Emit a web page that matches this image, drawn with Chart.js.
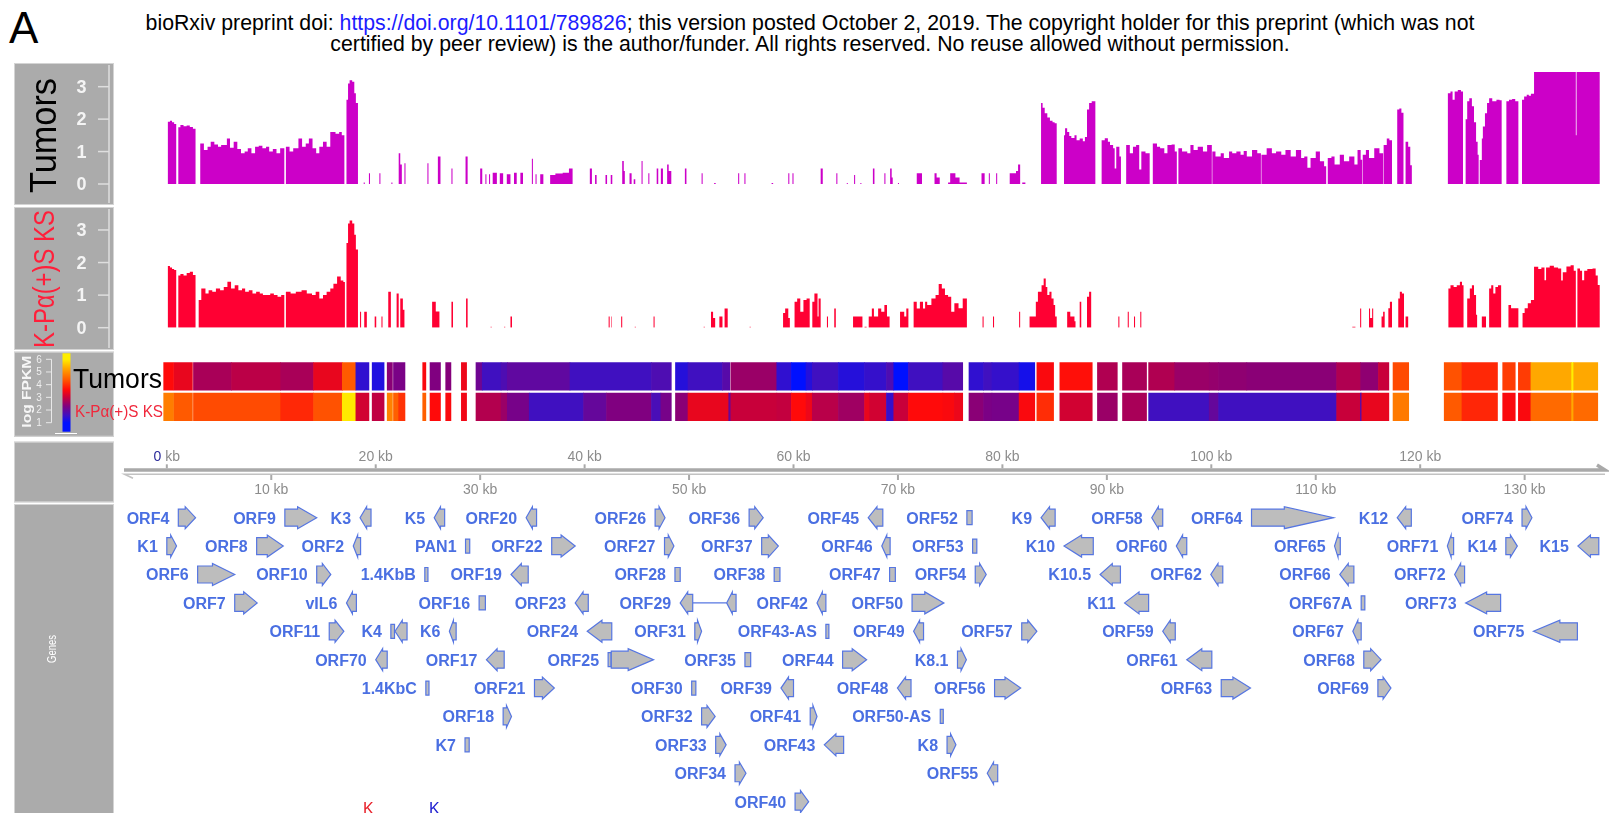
<!DOCTYPE html>
<html>
<head>
<meta charset="utf-8">
<script src="https://cdn.jsdelivr.net/npm/chart.js@4.4.1/dist/chart.umd.min.js"></script>
<style>
  body { margin:0; width:1609px; height:813px; overflow:hidden; background:#fff; position:relative;
         font-family:"Liberation Sans", Arial, sans-serif; }
  canvas { position:absolute; left:0; }
  .hdr { position:absolute; left:0; width:1620px; text-align:center; white-space:nowrap; color:#000; }
  #bigA { position:absolute; left:9px; top:6px; font-size:44px; line-height:44px; }
  .kk { position:absolute; top:801px; font-size:16px; line-height:16px; }
</style>
</head>
<body>
<div id="bigA">A</div>
<div id="hdr1" class="hdr">bioRxiv preprint doi: <span style="color:#1c1cff">https://doi.org/10.1101/789826</span>; this version posted October 2, 2019. The copyright holder for this preprint (which was not</div>
<div id="hdr2" class="hdr">certified by peer review) is the author/funder. All rights reserved. No reuse allowed without permission.</div>

<canvas id="cTumor" width="1609" height="150" style="top:60px"></canvas>
<canvas id="cKS" width="1609" height="150" style="top:205px"></canvas>
<canvas id="cHeat" width="1609" height="90" style="top:350px"></canvas>
<canvas id="cGenes" width="1609" height="375" style="top:438px"></canvas>

<div class="kk" style="left:363px;color:#e8202a">K</div>
<div class="kk" style="left:429px;color:#2020d0">K</div>

<script>
// ---- genome axis (kb) ----
const kbMin = -0.5, kbMax = 138;
const kbTicks = [0, 10, 20, 30, 40, 50, 60, 70, 80, 90, 100, 110, 120, 130];

// ---- coverage tracks: [kb, log coverage], each value holds until the next point ----
const covTicks = [0, 1, 2, 3];
const covMax = 3.45;

const tumorCoverage = [
  [0, 0], [0.1, 1.92], [0.3, 1.95], [0.5, 1.9], [0.7, 1.85], [0.9, 0],
  [1.1, 1.75], [1.3, 1.82], [1.6, 1.78], [1.9, 1.8], [2.2, 1.76], [2.5, 1.7], [2.75, 0],
  [3.2, 1.25], [3.55, 1.05], [3.9, 1.15], [4.2, 1.3], [4.55, 1.22], [4.9, 1.15], [5.2, 1.2], [5.75, 1.4],
  [6.05, 1.12], [6.4, 1.3], [6.75, 1.08], [7.1, 0.95], [7.45, 1.0], [7.75, 1.1], [8.1, 0.95], [8.45, 1.15],
  [8.8, 1.18], [9.15, 1.1], [9.5, 1.15], [9.8, 1.0], [10.15, 1.08], [10.5, 0.95], [10.85, 1.1], [11.25, 0],
  [11.4, 1.15], [11.75, 1.0], [12.1, 1.1], [12.6, 1.4], [12.95, 1.15], [13.3, 1.25], [13.6, 1.4], [13.95, 1.1],
  [14.3, 0.95], [14.6, 1.15], [14.95, 1.3], [15.3, 1.15], [15.65, 1.6], [16.15, 1.55], [16.5, 1.6], [16.75, 1.5], [17.0, 0],
  [17.2, 2.6], [17.35, 3.1], [17.5, 3.2], [17.75, 3.15], [17.95, 2.8], [18.1, 2.5], [18.3, 0],
  [18.85, 0.05], [18.95, 0], [19.35, 0.33], [19.45, 0], [20.35, 0.33], [20.45, 0], [21.5, 0.05], [21.6, 0],
  [22.2, 0.95], [22.35, 0.6], [22.5, 0], [22.75, 0.64], [22.85, 0], [24.95, 0.64], [25.05, 0],
  [25.95, 0.85], [26.2, 0], [27.25, 0.48], [27.35, 0], [28.6, 0.85], [28.8, 0],
  [30.0, 0.48], [30.2, 0], [30.5, 0.3], [30.6, 0], [30.85, 0.3], [30.95, 0], [31.2, 0.35], [31.6, 0],
  [31.88, 0.33], [32.2, 0], [32.55, 0.3], [32.9, 0], [33.24, 0.35], [33.5, 0], [33.85, 0.35], [34.1, 0],
  [34.95, 0.78], [35.05, 0], [35.3, 0.3], [35.4, 0], [35.75, 0.3], [36.05, 0], [36.7, 0.28], [37.2, 0.32],
  [37.9, 0.35], [38.5, 0.48], [38.85, 0],
  [40.5, 0.48], [40.7, 0], [41.0, 0.28], [41.15, 0], [42.0, 0.28], [42.15, 0], [42.5, 0.28], [42.65, 0],
  [43.6, 0.71], [43.75, 0.4], [43.85, 0], [44.3, 0.33], [44.5, 0], [44.7, 0.15], [44.85, 0], [45.45, 0.71], [45.55, 0],
  [46.1, 0.33], [46.2, 0], [46.9, 0.48], [47.05, 0], [47.3, 0.48], [47.5, 0], [47.9, 0.6], [48.05, 0.4], [48.3, 0],
  [49.6, 0.48], [49.75, 0], [51.2, 0.33], [51.3, 0], [52.4, 0.03], [52.55, 0], [54.7, 0.33], [54.8, 0],
  [55.3, 0.33], [55.4, 0], [57.9, 0.03], [58.05, 0], [59.5, 0.33], [59.6, 0], [59.9, 0.33], [60.0, 0],
  [62.6, 0.48], [62.8, 0], [64.1, 0.33], [64.2, 0], [65.1, 0.03], [65.2, 0], [65.8, 0.28], [65.9, 0],
  [66.4, 0.03], [66.5, 0], [67.6, 0.48], [67.75, 0], [68.7, 0.33], [68.8, 0], [69.25, 0.48], [69.4, 0.2], [69.5, 0],
  [70.0, 0.03], [70.1, 0], [71.8, 0.33], [72.3, 0], [73.5, 0.33], [73.7, 0.2], [74.0, 0],
  [74.8, 0.05], [75.0, 0.33], [75.5, 0.2], [75.9, 0.05], [76.6, 0], [78.0, 0.33], [78.3, 0],
  [78.7, 0.33], [78.8, 0], [79.4, 0.33], [79.5, 0], [80.7, 0.33], [81.3, 0.4], [81.5, 0.6], [81.7, 0],
  [81.9, 0.05], [82.2, 0],
  [83.7, 2.5], [83.85, 2.35], [84.05, 2.18], [84.3, 2.05], [84.55, 1.95], [84.8, 1.9], [85.0, 1.87], [85.2, 0],
  [85.9, 1.5], [86.0, 1.72], [86.2, 1.6], [86.4, 1.48], [86.6, 1.42], [86.9, 1.5], [87.1, 1.35], [87.4, 1.4],
  [87.7, 1.32], [87.9, 1.45], [88.1, 2.3], [88.3, 2.5], [88.55, 2.55], [88.9, 0],
  [89.5, 1.35], [89.8, 1.41], [90.1, 1.3], [90.3, 1.2], [90.6, 1.1], [90.75, 0.48], [90.9, 1.15], [91.2, 0.85], [91.35, 0],
  [91.85, 1.2], [92.2, 0.95], [92.5, 1.15], [92.8, 1.2], [93.1, 0.45], [93.3, 1.0], [93.7, 0.95], [94.1, 0],
  [94.4, 1.25], [94.8, 1.15], [95.1, 1.1], [95.5, 0.95], [95.8, 1.2], [96.2, 1.22], [96.5, 1.0], [96.7, 0],
  [96.85, 1.1], [97.2, 1.0], [97.7, 0.95], [98.0, 1.2], [98.3, 1.05], [98.7, 1.15], [99.2, 1.0], [99.6, 1.2], [100.05, 0],
  [100.1, 1.0], [100.4, 0.85], [100.9, 0.95], [101.2, 0.8], [101.7, 1.0], [102.0, 0.95], [102.4, 1.0], [102.8, 0.9],
  [103.1, 1.02], [103.4, 0.85], [103.9, 1.05], [104.4, 0.95], [104.75, 0],
  [104.8, 0.9], [105.3, 1.1], [105.8, 0.95], [106.2, 1.0], [106.7, 0.9], [107.1, 1.05], [107.6, 0.85], [108.1, 1.05],
  [108.6, 0.8], [108.9, 0.85], [109.2, 0.5], [109.5, 0.8], [110.0, 1.0], [110.4, 0.7], [110.8, 0.55], [111.0, 0],
  [111.15, 0.8], [111.5, 0.85], [111.8, 0.6], [112.3, 0.9], [112.7, 0.7], [113.2, 0.85], [113.7, 0.6], [114.0, 1.05], [114.3, 0.75], [114.45, 0],
  [114.5, 0.9], [114.8, 1.05], [115.1, 0.8], [115.6, 1.1], [116.1, 0.95], [116.45, 0],
  [116.5, 1.2], [116.8, 1.4], [117.05, 1.35], [117.3, 0],
  [117.8, 2.3], [118.0, 2.33], [118.2, 2.2], [118.4, 0],
  [118.6, 1.3], [118.85, 1.15], [119.05, 0.58], [119.2, 0],
  [122.65, 2.8], [122.9, 2.85], [123.1, 2.6], [123.3, 2.85], [123.6, 2.9], [123.9, 2.85], [124.1, 0],
  [124.35, 2.0], [124.5, 2.55], [124.7, 2.64], [124.95, 2.4], [125.15, 1.9], [125.35, 1.3], [125.5, 0.9], [125.6, 0],
  [125.7, 0.74], [125.9, 1.4], [126.0, 1.77], [126.2, 2.18], [126.4, 2.5], [126.6, 2.64], [126.9, 2.55], [127.3, 2.6], [127.6, 2.58], [127.8, 0],
  [128.25, 2.55], [128.5, 2.6], [128.8, 2.62], [129.1, 2.55], [129.4, 0],
  [129.75, 2.6], [129.95, 2.7], [130.2, 2.75], [130.4, 2.72], [130.6, 2.78], [130.9, 3.6],
  [134.9, 1.5], [134.97, 3.6], [137.2, 0]
];

const ksCoverage = [
  [0, 0], [0.1, 1.89], [0.3, 1.85], [0.5, 1.8], [0.7, 1.77], [0.9, 0],
  [1.1, 1.6], [1.3, 1.65], [1.6, 1.6], [1.9, 1.68], [2.2, 1.72], [2.5, 1.62], [2.75, 0],
  [3.05, 0.85], [3.3, 1.2], [3.7, 1.05], [4.0, 1.15], [4.35, 1.1], [4.7, 1.2], [5.1, 1.15], [5.45, 1.25],
  [5.8, 1.41], [6.15, 1.2], [6.5, 1.3], [6.85, 1.15], [7.2, 1.2], [7.5, 1.1], [7.85, 1.15], [8.2, 1.05],
  [8.55, 1.1], [8.9, 1.05], [9.2, 1.0], [9.55, 1.0], [9.9, 1.05], [10.25, 1.0], [10.6, 0.95], [10.95, 1.0], [11.25, 0],
  [11.4, 1.1], [11.85, 1.05], [12.35, 1.1], [12.9, 1.15], [13.4, 1.05], [13.9, 1.0], [14.25, 1.1], [14.6, 0.9],
  [14.95, 1.0], [15.3, 1.1], [15.65, 1.2], [15.95, 1.35], [16.3, 1.57], [16.65, 1.45], [16.9, 1.4], [17.05, 0],
  [17.2, 2.6], [17.35, 3.2], [17.5, 3.29], [17.75, 3.2], [17.95, 2.85], [18.1, 2.4], [18.3, 0],
  [18.5, 0.49], [18.6, 0], [18.9, 0.49], [19.15, 0], [19.9, 0.34], [20.05, 0], [20.55, 0.34], [20.65, 0],
  [21.2, 1.1], [21.45, 0], [22.0, 1.05], [22.2, 0], [22.35, 0.9], [22.6, 0.55], [22.75, 0],
  [25.4, 0.8], [25.75, 0.5], [26.1, 0], [27.25, 0.8], [27.4, 0], [28.65, 0.9], [28.8, 0],
  [31.0, 0.03], [31.1, 0], [32.3, 0.03], [32.4, 0], [32.9, 0.34], [33.05, 0],
  [42.3, 0.34], [42.4, 0], [42.55, 0.34], [42.6, 0], [43.5, 0.34], [43.6, 0], [44.8, 0.03], [44.9, 0],
  [46.6, 0.34], [46.7, 0], [51.4, 0.03], [51.5, 0], [52.1, 0.49], [52.3, 0.3], [52.5, 0],
  [52.9, 0.34], [53.2, 0], [53.4, 0.59], [53.7, 0], [55.8, 0.03], [55.9, 0],
  [59.0, 0.45], [59.2, 0.59], [59.5, 0.3], [59.65, 0],
  [60.1, 0.8], [60.35, 0.9], [60.65, 0.49], [60.95, 0.85], [61.25, 0.9], [61.55, 0],
  [61.8, 0.8], [62.0, 1.05], [62.3, 0.34], [62.4, 0.9], [62.6, 0],
  [63.2, 0.34], [63.3, 0], [63.9, 0.59], [64.05, 0],
  [65.7, 0.34], [66.6, 0], [66.8, 0.03], [67.0, 0],
  [67.2, 0.34], [67.5, 0.59], [67.7, 0.34], [68.1, 0.59], [68.4, 0.49], [68.7, 0.7], [68.95, 0.34], [69.2, 0],
  [70.2, 0.49], [70.6, 0.34], [70.8, 0.59], [71.0, 0],
  [71.5, 0.8], [71.8, 0.59], [72.1, 0.8], [72.4, 0.59], [72.6, 0.8], [72.8, 0.7], [73.2, 0.9], [73.6, 1.0],
  [73.9, 1.34], [74.2, 1.2], [74.5, 1.0], [74.8, 0.95], [75.1, 0.49], [75.4, 0.75], [75.8, 0.6], [76.2, 0.9], [76.6, 0],
  [78.1, 0.34], [78.2, 0], [79.1, 0.34], [79.2, 0], [81.6, 0.49], [81.7, 0],
  [82.6, 0.34], [82.95, 0.34], [83.2, 0.8], [83.4, 1.1], [83.75, 1.3], [83.95, 1.51], [84.15, 1.25], [84.3, 1.0],
  [84.5, 1.1], [84.7, 0.9], [84.9, 0.7], [85.05, 0.34], [85.2, 0],
  [86.2, 0.49], [86.5, 0.34], [86.9, 0.2], [87.0, 0], [87.4, 0.8], [87.55, 0], [88.1, 0.95], [88.3, 1.1], [88.5, 0],
  [91.1, 0.34], [91.2, 0], [92.0, 0.49], [92.1, 0], [92.6, 0.34], [92.7, 0], [93.2, 0.49], [93.3, 0],
  [113.5, 0.03], [113.8, 0], [114.25, 0.59], [114.35, 0], [115.1, 0.59], [115.2, 0.3], [115.4, 0.59], [115.5, 0],
  [116.3, 0.34], [116.45, 0.49], [116.6, 0], [116.95, 0.6], [117.1, 0.8], [117.3, 0],
  [117.9, 0.9], [118.05, 1.1], [118.25, 1.05], [118.45, 0], [118.6, 0.34], [118.85, 0],
  [122.7, 1.2], [122.9, 1.3], [123.2, 1.25], [123.5, 1.3], [123.8, 1.41], [124.0, 1.3], [124.15, 0],
  [124.5, 0.9], [124.75, 1.2], [124.95, 1.3], [125.15, 1.0], [125.35, 0.4], [125.45, 0],
  [125.9, 0.34], [126.3, 0],
  [126.6, 1.2], [126.8, 1.3], [127.0, 1.05], [127.2, 1.25], [127.45, 1.3], [127.75, 0],
  [128.45, 0.7], [128.7, 0.6], [129.0, 0.6], [129.4, 0],
  [129.8, 0.45], [130.0, 0.6], [130.3, 0.75], [130.6, 0.85],
  [130.9, 1.87], [131.3, 1.8], [131.6, 1.85], [131.9, 1.46], [132.05, 1.85], [132.4, 1.9], [132.8, 1.85], [133.2, 1.82],
  [133.5, 1.45], [133.65, 1.7], [134.0, 1.88], [134.4, 1.92], [134.7, 1.75], [134.9, 0],
  [135.05, 1.82], [135.3, 1.75], [135.5, 1.46], [135.7, 1.75], [136.0, 1.8], [136.5, 1.82], [136.8, 1.6], [137.0, 1.31], [137.2, 0]
];

// ---- expression heatmap: [start kb, end kb, log FPKM] ----
const heatRows = ['Tumors', 'K-Pα(+)S KS'];
const fpkmTicks = [1, 2, 3, 4, 5, 6];

const tumorHeat = [
  [-0.3, 0.65, 3.6], [0.7, 2.45, 3.35], [2.55, 6.2, 2.7], [6.2, 10.9, 2.87], [10.9, 14.05, 2.7],
  [14.05, 16.8, 3.35], [16.8, 18.1, 4.4], [18.1, 19.35, 1.45], [19.66, 20.8, 1.3], [21.1, 21.6, 2.4],
  [21.7, 22.8, 2.23], [24.5, 24.8, 3.55], [25.2, 26.2, 2.3], [26.7, 27.2, 2.35], [28.2, 28.7, 3.4],
  [29.6, 30.2, 2.1], [30.2, 32.0, 1.6], [32.0, 32.6, 1.75], [32.6, 38.6, 1.95], [38.6, 46.4, 1.6],
  [46.4, 48.3, 1.75], [48.7, 49.9, 1.35], [49.9, 53.2, 1.6], [53.2, 53.9, 1.85], [54.0, 58.4, 2.55],
  [58.4, 59.8, 1.45], [59.8, 61.2, 1.0], [61.2, 61.8, 1.35], [61.8, 64.3, 1.6], [64.3, 66.8, 1.35],
  [66.8, 68.9, 1.5], [68.9, 69.6, 1.75], [69.6, 71.0, 1.0], [71.0, 74.3, 1.6], [74.3, 76.2, 1.85],
  [76.8, 78.2, 1.45], [78.2, 79.0, 1.6], [79.0, 81.6, 1.5], [81.6, 83.1, 1.2], [83.3, 84.9, 3.55],
  [85.5, 88.6, 3.65], [89.1, 91.0, 2.77], [91.5, 93.8, 2.7], [94.0, 96.5, 2.77], [96.5, 99.8, 2.55],
  [99.8, 100.7, 2.5], [100.7, 103.4, 2.45], [103.4, 112.0, 2.4], [112.0, 114.3, 2.77], [114.3, 116.0, 2.45],
  [116.0, 117.0, 3.0], [117.4, 118.9, 4.24], [122.3, 124.0, 4.32], [124.0, 127.4, 3.9], [127.9, 129.1, 4.1],
  [129.4, 130.6, 4.1], [130.6, 134.5, 5.3], [134.5, 134.7, 6.0], [134.7, 137.0, 5.3]
];

const ksHeat = [
  [-0.3, 0.65, 4.8], [0.7, 2.45, 4.4], [2.55, 10.9, 4.25], [10.9, 14.05, 3.9], [14.05, 16.8, 4.32],
  [16.8, 18.1, 5.95], [18.1, 19.35, 3.1], [19.66, 20.8, 2.92], [21.1, 21.6, 4.85], [21.7, 22.2, 4.46],
  [22.2, 22.8, 4.0], [24.5, 24.8, 4.46], [25.2, 26.2, 3.6], [26.7, 27.2, 3.55], [28.2, 28.7, 3.45],
  [29.6, 32.0, 2.8], [32.0, 32.6, 2.55], [32.6, 34.7, 2.2], [34.7, 39.9, 1.6], [39.9, 42.1, 2.0],
  [42.1, 46.4, 2.3], [46.4, 47.3, 1.7], [47.3, 48.3, 2.2], [48.7, 49.9, 2.4], [49.9, 53.8, 3.35],
  [53.8, 54.0, 2.0], [54.0, 58.4, 3.0], [58.4, 59.8, 2.95], [59.8, 61.2, 3.6], [61.2, 61.8, 3.4],
  [61.8, 64.3, 2.85], [64.3, 66.8, 2.6], [66.8, 67.3, 3.35], [67.3, 68.9, 3.1], [68.9, 69.6, 1.5],
  [69.6, 71.0, 3.0], [71.0, 74.3, 3.6], [74.3, 75.4, 3.55], [75.4, 76.2, 3.4], [76.8, 78.2, 2.4],
  [78.2, 79.0, 2.25], [79.0, 81.6, 2.2], [81.6, 83.1, 3.55], [83.3, 84.9, 3.95], [85.5, 88.6, 3.1],
  [89.1, 91.0, 2.55], [91.5, 93.8, 2.7], [94.0, 99.8, 1.6], [99.8, 100.7, 2.0], [100.7, 112.0, 1.6],
  [112.0, 114.3, 3.0], [114.3, 114.4, 1.4], [114.4, 117.0, 3.35], [117.4, 118.9, 4.77], [122.3, 124.0, 4.4],
  [124.0, 127.4, 3.88], [127.9, 129.1, 3.55], [129.4, 130.6, 3.55], [130.6, 134.5, 4.58], [134.5, 134.7, 5.3],
  [134.7, 137.0, 4.58]
];

// ---- genes: [name, start kb, end kb, strand (1 fwd, -1 rev, 0 none), row] ----
const genes = [
  ['ORF4', 1.1, 2.75, 1, 0], ['ORF9', 11.3, 14.35, 1, 0], ['K3', 18.5, 19.55, -1, 0], ['K5', 25.6, 26.6, -1, 0],
  ['ORF20', 34.4, 35.4, -1, 0], ['ORF26', 46.75, 47.7, 1, 0], ['ORF36', 55.75, 57.1, 1, 0], ['ORF45', 67.15, 68.55, -1, 0],
  ['ORF52', 76.6, 77.1, 0, 0], ['K9', 83.7, 85.05, -1, 0], ['ORF58', 94.3, 95.35, -1, 0], ['ORF64', 103.85, 111.7, 1, 0],
  ['K12', 117.8, 119.15, -1, 0], ['ORF74', 129.75, 130.7, 1, 0],

  ['K1', 0.0, 0.93, 1, 1], ['ORF8', 8.6, 11.15, 1, 1], ['ORF2', 17.85, 18.55, -1, 1], ['PAN1', 28.6, 29.0, 0, 1],
  ['ORF22', 36.85, 39.1, 1, 1], ['ORF27', 47.65, 48.55, 1, 1], ['ORF37', 56.95, 58.55, 1, 1], ['ORF46', 68.45, 69.25, -1, 1],
  ['ORF53', 77.15, 77.55, 0, 1], ['K10', 85.9, 88.7, -1, 1], ['ORF60', 96.65, 97.65, -1, 1], ['ORF65', 111.8, 112.35, -1, 1],
  ['ORF71', 122.6, 123.2, -1, 1], ['K14', 128.2, 129.3, 1, 1], ['K15', 135.1, 137.1, -1, 1],

  ['ORF6', 2.95, 6.5, 1, 2], ['ORF10', 14.35, 15.7, 1, 2], ['1.4KbB', 24.7, 25.0, 0, 2], ['ORF19', 32.95, 34.6, -1, 2],
  ['ORF28', 48.65, 49.15, 0, 2], ['ORF38', 58.15, 58.7, 0, 2], ['ORF47', 69.2, 69.75, 0, 2], ['ORF54', 77.4, 78.45, 1, 2],
  ['K10.5', 89.35, 91.3, -1, 2], ['ORF62', 99.95, 101.1, -1, 2], ['ORF66', 112.3, 113.65, -1, 2], ['ORF72', 123.3, 124.25, -1, 2],

  ['ORF7', 6.5, 8.65, 1, 3], ['vIL6', 17.2, 18.15, -1, 3], ['ORF16', 29.9, 30.5, 0, 3], ['ORF23', 39.1, 40.35, -1, 3],
  ['ORF29', 49.15, 50.35, -1, 3], ['', 53.6, 54.5, -1, 3], ['ORF42', 62.25, 63.1, -1, 3], ['ORF50', 71.35, 74.4, 1, 3],
  ['K11', 91.7, 94.0, -1, 3], ['ORF67A', 114.35, 114.7, 0, 3], ['ORF73', 124.35, 127.7, -1, 3],

  ['ORF11', 15.55, 16.95, 1, 4], ['K4', 21.45, 21.8, 0, 4], ['', 21.85, 23.0, -1, 4], ['K6', 27.05, 27.7, -1, 4],
  ['ORF24', 40.25, 42.6, -1, 4], ['ORF31', 50.55, 51.2, 1, 4], ['ORF43-AS', 63.1, 63.35, 0, 4], ['ORF49', 71.5, 72.45, -1, 4],
  ['ORF57', 81.85, 83.3, 1, 4], ['ORF59', 95.35, 96.55, -1, 4], ['ORF67', 113.55, 114.35, -1, 4], ['ORF75', 130.85, 135.05, -1, 4],

  ['ORF70', 20.0, 21.1, -1, 5], ['ORF17', 30.6, 32.3, -1, 5], ['ORF25', 42.25, 42.5, 0, 5], ['', 42.55, 46.6, 1, 5],
  ['ORF35', 55.35, 55.9, 0, 5], ['ORF44', 64.7, 67.0, 1, 5], ['K8.1', 75.7, 76.55, 1, 5], ['ORF61', 97.65, 100.05, -1, 5],
  ['ORF68', 114.6, 116.25, 1, 5],

  ['1.4KbC', 24.8, 25.1, 0, 6], ['ORF21', 35.2, 37.1, 1, 6], ['ORF30', 50.25, 50.65, 0, 6], ['ORF39', 58.8, 60.0, -1, 6],
  ['ORF48', 69.95, 71.25, -1, 6], ['ORF56', 79.25, 81.75, 1, 6], ['ORF63', 100.95, 103.75, 1, 6], ['ORF69', 115.95, 117.2, 1, 6],

  ['ORF18', 32.2, 33.0, 1, 7], ['ORF32', 51.2, 52.5, 1, 7], ['ORF41', 61.6, 62.25, 1, 7], ['ORF50-AS', 74.05, 74.3, 0, 7],

  ['K7', 28.55, 28.95, 0, 8], ['ORF33', 52.55, 53.55, 1, 8], ['ORF43', 62.95, 64.8, -1, 8], ['K8', 74.7, 75.55, 1, 8],

  ['ORF34', 54.4, 55.45, 1, 9], ['ORF55', 78.55, 79.55, -1, 9],

  ['ORF40', 60.15, 61.45, 1, 10]
];
// spliced genes: intron line [start kb, end kb, row]
const introns = [[50.35, 53.6, 3]];

// ---- colour ramp for log FPKM ----
const rampStops = [
  [1.0, '#0010ff'], [1.6, '#4010c0'], [2.3, '#800080'], [3.0, '#c8003a'],
  [3.6, '#ff0a0a'], [4.4, '#ff5a00'], [5.3, '#ffa800'], [6.0, '#ffee00']
];
function hexRgb(h) { return [1, 3, 5].map(i => parseInt(h.substr(i, 2), 16)); }
function rampColor(v) {
  if (v <= rampStops[0][0]) return rampStops[0][1];
  for (let i = 1; i < rampStops.length; i++) {
    if (v <= rampStops[i][0]) {
      const [v0, c0] = rampStops[i - 1], [v1, c1] = rampStops[i];
      const t = (v - v0) / (v1 - v0), a = hexRgb(c0), b = hexRgb(c1);
      return 'rgb(' + a.map((x, k) => Math.round(x + (b[k] - x) * t)).join(',') + ')';
    }
  }
  return rampStops[rampStops.length - 1][1];
}

const FONT = '"Liberation Sans", Arial, sans-serif';
const padX = { left: 161.6, right: 0.8 };

function fitText(ctx, text, x, y, maxW) {
  const w = ctx.measureText(text).width;
  ctx.save();
  ctx.translate(x, y);
  if (w > maxW) ctx.scale(maxW / w, 1);
  ctx.fillText(text, 0, 0);
  ctx.restore();
}
function rotatedText(ctx, text, cx, cy, len, font, color) {
  ctx.save();
  ctx.font = font; ctx.fillStyle = color;
  ctx.textAlign = 'center'; ctx.textBaseline = 'middle';
  ctx.translate(cx, cy); ctx.rotate(-Math.PI / 2);
  const w = ctx.measureText(text).width;
  ctx.scale(len / w, 1);
  ctx.fillText(text, 0, 0);
  ctx.restore();
}
function panel(ctx, x, y, w, h) {
  ctx.fillStyle = '#ababab';
  ctx.fillRect(x, y, w, h);
  ctx.strokeStyle = '#d4d4d4'; ctx.lineWidth = 1;
  ctx.strokeRect(x + 0.5, y + 0.5, w - 1, h - 1);
}

// ---- coverage tracks ----
const covPanel = {
  id: 'covPanel',
  beforeDraw(chart, args, o) {
    const ctx = chart.ctx, ys = chart.scales.y;
    ctx.save();
    panel(ctx, 14, o.top, 100, o.height);
    ctx.strokeStyle = '#dedede'; ctx.lineWidth = 1.5;
    ctx.beginPath(); ctx.moveTo(109, o.top + 2); ctx.lineTo(109, o.top + o.height - 2); ctx.stroke();
    ctx.font = 'bold 18px ' + FONT; ctx.fillStyle = '#f4f4f4';
    ctx.textAlign = 'center'; ctx.textBaseline = 'middle';
    covTicks.forEach(t => {
      const py = ys.getPixelForValue(t);
      ctx.beginPath(); ctx.moveTo(98, py); ctx.lineTo(109, py); ctx.stroke();
      ctx.fillText(String(t), 81.5, py + 1);
    });
    ctx.restore();
    rotatedText(ctx, o.label, 46, o.labelY, o.labelLen, o.labelFont, o.labelColor);
  }
};

function coverageChart(id, points, color, pad, panelOpts) {
  return new Chart(document.getElementById(id), {
    type: 'line',
    data: {
      datasets: [{
        data: points.map(p => ({ x: p[0], y: p[1] })),
        stepped: 'before',
        fill: 'origin',
        backgroundColor: color,
        borderColor: 'rgba(0,0,0,0)',
        borderWidth: 0,
        pointRadius: 0
      }]
    },
    options: {
      responsive: false, animation: false, events: [],
      layout: { padding: { left: padX.left, right: padX.right, top: pad.top, bottom: pad.bottom } },
      scales: {
        x: { type: 'linear', min: kbMin, max: kbMax, display: false },
        y: { type: 'linear', min: 0, max: covMax, display: false }
      },
      plugins: { legend: { display: false }, tooltip: { enabled: false }, covPanel: panelOpts }
    },
    plugins: [covPanel]
  });
}

coverageChart('cTumor', tumorCoverage, '#cc00c8', { top: 12.1, bottom: 26 },
  { top: 3, height: 142, label: 'Tumors', labelY: 75.5, labelLen: 115, labelFont: '36px ' + FONT, labelColor: '#000' });
coverageChart('cKS', ksCoverage, '#ff0033', { top: 10.3, bottom: 27.3 },
  { top: 2, height: 143, label: 'K-Pα(+)S KS', labelY: 74, labelLen: 138, labelFont: '30px ' + FONT, labelColor: '#ff1f3a' });

// ---- heatmap ----
const heatLegend = {
  id: 'heatLegend',
  beforeDraw(chart) {
    const ctx = chart.ctx;
    ctx.save();
    panel(ctx, 14, 1.7, 100, 85);
    // colour bar: value -> y
    const yv = v => 72.7 - (v - 1) * 12.68;
    const top = 3.3, bot = 81.7;
    const vTop = 1 + (72.7 - top) / 12.68, vBot = 1 + (72.7 - bot) / 12.68;
    const g = ctx.createLinearGradient(0, top, 0, bot);
    g.addColorStop(0, rampColor(vTop));
    rampStops.slice().reverse().forEach(([v]) => {
      const off = (vTop - v) / (vTop - vBot);
      if (off > 0 && off < 1) g.addColorStop(off, rampColor(v));
    });
    g.addColorStop(1, rampColor(vBot));
    ctx.fillStyle = g;
    ctx.fillRect(62.5, top, 8, bot - top);
    ctx.strokeStyle = '#ffffff'; ctx.lineWidth = 1;
    ctx.beginPath(); ctx.moveTo(55, 83.5); ctx.lineTo(77, 83.5); ctx.stroke();
    // ticks
    ctx.strokeStyle = '#e8e8e8';
    ctx.beginPath(); ctx.moveTo(51.5, yv(6)); ctx.lineTo(51.5, yv(1)); ctx.stroke();
    ctx.font = '10px ' + FONT; ctx.fillStyle = '#eeeeee';
    ctx.textAlign = 'center'; ctx.textBaseline = 'middle';
    fpkmTicks.forEach(t => {
      ctx.beginPath(); ctx.moveTo(46, yv(t)); ctx.lineTo(51.5, yv(t)); ctx.stroke();
      ctx.fillText(String(t), 39, yv(t) + 0.5);
    });
    ctx.restore();
    rotatedText(ctx, 'log FPKM', 27, 41.7, 72, 'bold 13px ' + FONT, '#f6f6f6');
  },
  afterDraw(chart) {
    const ctx = chart.ctx;
    ctx.save();
    ctx.textAlign = 'left'; ctx.textBaseline = 'alphabetic';
    ctx.font = '27px ' + FONT; ctx.fillStyle = '#000';
    fitText(ctx, heatRows[0], 73, 38.3, 89);
    ctx.font = '17px ' + FONT; ctx.fillStyle = '#f0283c';
    fitText(ctx, heatRows[1], 75, 66.5, 88);
    ctx.restore();
  }
};

const heatData = tumorHeat.map(s => ({ x: [s[0], s[1]], y: heatRows[0], v: s[2] }))
  .concat(ksHeat.map(s => ({ x: [s[0], s[1]], y: heatRows[1], v: s[2] })));

new Chart(document.getElementById('cHeat'), {
  type: 'bar',
  data: {
    labels: heatRows,
    datasets: [{
      data: heatData,
      backgroundColor: c => (c.raw ? rampColor(c.raw.v) : '#000'),
      borderWidth: 0,
      barThickness: 27.5
    }]
  },
  options: {
    indexAxis: 'y',
    responsive: false, animation: false, events: [],
    layout: { padding: { left: padX.left, right: padX.right, top: 11.1, bottom: 17.9 } },
    scales: {
      x: { type: 'linear', min: kbMin, max: kbMax, display: false },
      y: { type: 'category', labels: heatRows, display: false, offset: true }
    },
    plugins: { legend: { display: false }, tooltip: { enabled: false } }
  },
  plugins: [heatLegend]
});

// ---- ruler + genes ----
const rulerPlugin = {
  id: 'ruler',
  beforeDraw(chart) {
    const ctx = chart.ctx, xs = chart.scales.x;
    ctx.save();
    panel(ctx, 14, 3.7, 100, 60.6);
    panel(ctx, 14, 66, 100, 320);
    ctx.restore();
    rotatedText(ctx, 'Genes', 53, 211, 28, '12px ' + FONT, '#ffffff');

    ctx.save();
    ctx.strokeStyle = '#a9a9a9'; ctx.lineWidth = 3.4;
    ctx.beginPath(); ctx.moveTo(124, 32); ctx.lineTo(1605, 32); ctx.lineTo(1597, 27); ctx.stroke();
    ctx.strokeStyle = '#c2c2c2'; ctx.lineWidth = 1.6;
    ctx.beginPath(); ctx.moveTo(133, 40.3); ctx.lineTo(124.5, 36.2); ctx.lineTo(1605, 36.2); ctx.stroke();

    ctx.font = '14px ' + FONT; ctx.textBaseline = 'alphabetic'; ctx.textAlign = 'left';
    ctx.strokeStyle = '#a9a9a9'; ctx.lineWidth = 2;
    kbTicks.forEach(k => {
      const px = xs.getPixelForValue(k);
      const up = k % 20 === 0;
      ctx.beginPath();
      if (up) { ctx.moveTo(px, 26.3); ctx.lineTo(px, 30.3); }
      else { ctx.moveTo(px, 37); ctx.lineTo(px, 42); }
      ctx.stroke();
      const num = String(k), rest = ' kb';
      const wNum = ctx.measureText(num).width, wAll = ctx.measureText(num + rest).width;
      const x0 = px - wAll / 2, by = up ? 23 : 56.3;
      ctx.fillStyle = k === 0 ? '#2a2a9a' : '#8c8c8c';
      ctx.fillText(num, x0, by);
      ctx.fillStyle = '#8c8c8c';
      ctx.fillText(rest, x0 + wNum, by);
    });
    ctx.restore();
  }
};

function geneShape(ctx, x0, x1, yc, strand) {
  const w = x1 - x0;
  ctx.beginPath();
  if (strand === 0) {
    const bw = Math.max(w, 3);
    ctx.rect(x0, yc - 7, bw, 14);
    return;
  }
  const head = w * 0.6, bh = 8.5, hh = 11;
  if (strand > 0) {
    const hx = x1 - head;
    ctx.moveTo(x0, yc - bh); ctx.lineTo(hx, yc - bh); ctx.lineTo(hx, yc - hh); ctx.lineTo(x1, yc);
    ctx.lineTo(hx, yc + hh); ctx.lineTo(hx, yc + bh); ctx.lineTo(x0, yc + bh);
  } else {
    const hx = x0 + head;
    ctx.moveTo(x1, yc - bh); ctx.lineTo(hx, yc - bh); ctx.lineTo(hx, yc - hh); ctx.lineTo(x0, yc);
    ctx.lineTo(hx, yc + hh); ctx.lineTo(hx, yc + bh); ctx.lineTo(x1, yc + bh);
  }
  ctx.closePath();
}

const genePlugin = {
  id: 'geneArrows',
  afterDatasetsDraw(chart) {
    const ctx = chart.ctx, xs = chart.scales.x, ys = chart.scales.y;
    const meta = chart.getDatasetMeta(0);
    ctx.save();
    ctx.strokeStyle = '#5676e2'; ctx.lineWidth = 1.2;
    introns.forEach(([s, e, r]) => {
      const y = ys.getPixelForValue(r);
      ctx.beginPath(); ctx.moveTo(xs.getPixelForValue(s), y); ctx.lineTo(xs.getPixelForValue(e), y); ctx.stroke();
    });
    ctx.font = 'bold 16px ' + FONT; ctx.textAlign = 'right'; ctx.textBaseline = 'alphabetic';
    meta.data.forEach((el, i) => {
      const g = genes[i];
      const p = el.getProps(['x', 'base', 'y'], true);
      const x0 = Math.min(p.x, p.base), x1 = Math.max(p.x, p.base);
      geneShape(ctx, x0, x1, p.y, g[3]);
      ctx.fillStyle = '#bdbdbd'; ctx.fill();
      ctx.stroke();
      if (g[0]) {
        ctx.fillStyle = '#4a6fe2';
        ctx.fillText(g[0], x0 - 9, p.y + 6);
      }
    });
    ctx.restore();
  }
};

new Chart(document.getElementById('cGenes'), {
  type: 'bar',
  data: {
    datasets: [{
      data: genes.map(g => ({ x: [g[1], g[2]], y: g[4] })),
      backgroundColor: 'rgba(0,0,0,0)',
      borderWidth: 0
    }]
  },
  options: {
    indexAxis: 'y',
    responsive: false, animation: false, events: [],
    layout: { padding: { left: padX.left, right: padX.right, top: 65.5, bottom: 0 } },
    scales: {
      x: { type: 'linear', min: kbMin, max: kbMax, display: false },
      y: { type: 'linear', min: -0.5, max: 10.4, reverse: true, offset: false, display: false }
    },
    plugins: { legend: { display: false }, tooltip: { enabled: false } }
  },
  plugins: [rulerPlugin, genePlugin]
});

// ---- header sizing ----
(function () {
  const c = document.createElement('canvas').getContext('2d');
  c.font = '18px ' + FONT;
  const w = c.measureText(document.getElementById('hdr1').textContent).width;
  const fs = 18 * 1330 / w;
  const h1 = document.getElementById('hdr1'), h2 = document.getElementById('hdr2');
  [h1, h2].forEach(h => { h.style.fontSize = fs + 'px'; h.style.lineHeight = fs + 'px'; h.style.fontFamily = FONT; });
  h1.style.top = (24.6 - fs * 0.55) + 'px';
  h2.style.top = (46 - fs * 0.55) + 'px';
})();
</script>
</body>
</html>
